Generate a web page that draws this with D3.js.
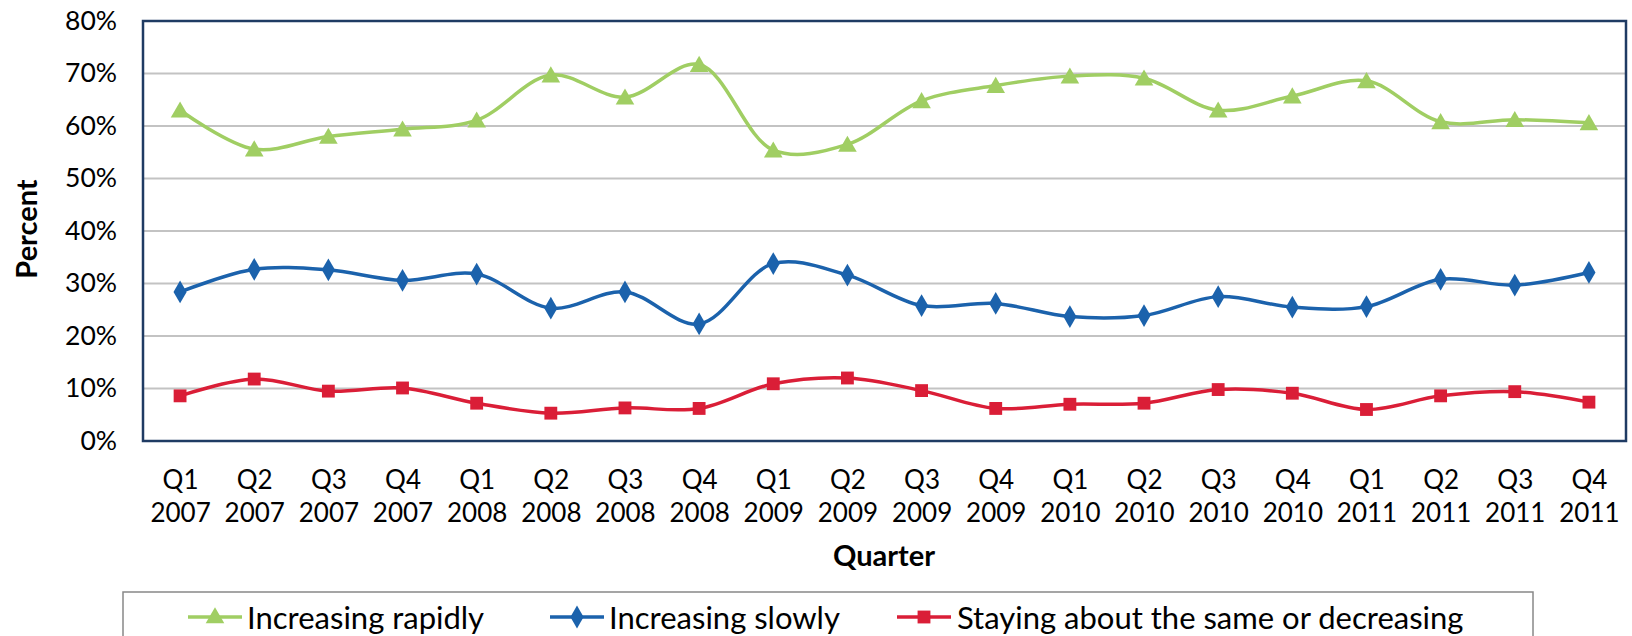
<!DOCTYPE html>
<html>
<head>
<meta charset="utf-8">
<script src="https://cdn.jsdelivr.net/npm/d3@7"></script>
<style>
    body { margin: 0; background: #fff; }
    svg text { font-family: Lato, "Open Sans", sans-serif; fill: #000; }
</style>
</head>
<body>
<div id="chart"></div>
<script>
// quarters along the x axis
var quarters = ["Q1", "Q2", "Q3", "Q4", "Q1", "Q2", "Q3", "Q4", "Q1", "Q2",
    "Q3", "Q4", "Q1", "Q2", "Q3", "Q4", "Q1", "Q2", "Q3", "Q4"];
var years = ["2007", "2007", "2007", "2007", "2008", "2008", "2008", "2008", "2009", "2009",
    "2009", "2009", "2010", "2010", "2010", "2010", "2011", "2011", "2011", "2011"];

// percent values
var increasingRapidly = [63.0, 55.6, 58.0, 59.4, 61.1, 69.7, 65.5, 71.7, 55.4, 56.5,
    64.8, 67.7, 69.5, 69.1, 63.0, 65.7, 68.6, 60.8, 61.2, 60.6];
var increasingSlowly = [28.4, 32.7, 32.6, 30.6, 31.8, 25.3, 28.4, 22.3, 33.8, 31.6,
    25.8, 26.2, 23.7, 23.9, 27.5, 25.5, 25.6, 30.8, 29.7, 32.1];
var stayingSame = [8.6, 11.8, 9.5, 10.1, 7.2, 5.3, 6.3, 6.2, 10.9, 12.0,
    9.6, 6.2, 7.0, 7.2, 9.8, 9.1, 6.0, 8.6, 9.4, 7.4];

var seriesNames = ["Increasing rapidly", "Increasing slowly", "Staying about the same or decreasing"];
var yTicks = [0, 10, 20, 30, 40, 50, 60, 70, 80];

var width = 1632, height = 636;
var plot = {left: 143, top: 21, right: 1626, bottom: 441};

var svg = d3.select("#chart")
    .append("svg")
    .attr("width", width)
    .attr("height", height);

var keys = quarters.map(function (q, i) { return i; });

var x = d3.scalePoint()
    .domain(keys)
    .range([plot.left, plot.right])
    .padding(0.5);

var y = d3.scaleLinear()
    .domain([0, 80])
    .range([plot.bottom, plot.top]);

// gridlines
svg.append("g")
    .selectAll("line")
    .data(yTicks.filter(function (d) { return d > 0 && d < 80; }))
    .enter()
    .append("line")
    .attr("x1", plot.left)
    .attr("x2", plot.right)
    .attr("y1", function (d) { return y(d); })
    .attr("y2", function (d) { return y(d); })
    .attr("stroke", "#c3c3c3")
    .attr("stroke-width", 2);

// y axis labels
var yAxis = svg.append("g")
    .attr("transform", "translate(" + (plot.left - 26) + ",0)")
    .call(d3.axisLeft(y).tickValues(yTicks).tickSize(0).tickPadding(0)
        .tickFormat(function (d) { return d + "%"; }));
yAxis.select(".domain").remove();
yAxis.selectAll("text")
    .style("font-family", "Lato")
    .style("font-size", "26.5px")
    .attr("fill", "#000");

// x axis labels, two lines each
var xAxis = svg.append("g")
    .attr("transform", "translate(0," + plot.bottom + ")")
    .call(d3.axisBottom(x).tickSize(0).tickFormat(""));
xAxis.select(".domain").remove();
xAxis.selectAll(".tick text").remove();
xAxis.selectAll(".tick")
    .append("text")
    .attr("text-anchor", "middle")
    .style("font-family", "Lato")
    .style("font-size", "26px")
    .attr("fill", "#000")
    .each(function (d) {
        var t = d3.select(this);
        t.append("tspan").attr("x", 0).attr("y", 48).text(quarters[d]);
        t.append("tspan").attr("x", 0).attr("y", 81).text(years[d]);
    });

// plot border
svg.append("rect")
    .attr("x", plot.left)
    .attr("y", plot.top)
    .attr("width", plot.right - plot.left)
    .attr("height", plot.bottom - plot.top)
    .attr("fill", "none")
    .attr("stroke", "#1f3b63")
    .attr("stroke-width", 2.5);

// axis titles
svg.append("text")
    .attr("x", 884)
    .attr("y", 566)
    .attr("text-anchor", "middle")
    .style("font-size", "29px")
    .style("font-weight", "bold")
    .text("Quarter");

svg.append("text")
    .attr("transform", "translate(37,229) rotate(-90)")
    .attr("text-anchor", "middle")
    .style("font-size", "29px")
    .style("font-weight", "bold")
    .text("Percent");

var series = [
    {name: seriesNames[0], values: increasingRapidly, color: "#a0ce63", shape: d3.symbolTriangle, size: 150},
    {name: seriesNames[1], values: increasingSlowly, color: "#1b62ac", shape: d3.symbolDiamond, size: 150},
    {name: seriesNames[2], values: stayingSame, color: "#da1e37", shape: d3.symbolSquare, size: 165}
];

var line = d3.line()
    .x(function (d, i) { return x(i); })
    .y(function (d) { return y(d); })
    .curve(d3.curveCatmullRom);

series.forEach(function (s) {
    svg.append("path")
        .datum(s.values)
        .attr("d", line)
        .attr("fill", "none")
        .attr("stroke", s.color)
        .attr("stroke-width", 3.5);

    svg.append("g")
        .selectAll("path")
        .data(s.values)
        .enter()
        .append("path")
        .attr("transform", function (d, i) {
            var dy = s.shape === d3.symbolTriangle ? 2 : 0;
            return "translate(" + x(i) + "," + (y(d) + dy) + ")";
        })
        .attr("d", d3.symbol().type(s.shape).size(s.size))
        .attr("fill", s.color);
});

// legend
var legend = svg.append("g");
legend.append("rect")
    .attr("x", 123)
    .attr("y", 592)
    .attr("width", 1410)
    .attr("height", 60)
    .attr("fill", "#fff")
    .attr("stroke", "#888")
    .attr("stroke-width", 1.5);

var legendX = [188, 550, 897];
var legendTextX = [247, 609, 957];

series.forEach(function (s, i) {
    legend.append("line")
        .attr("x1", legendX[i])
        .attr("x2", legendX[i] + 54)
        .attr("y1", 617)
        .attr("y2", 617)
        .attr("stroke", s.color)
        .attr("stroke-width", 3.5);
    legend.append("path")
        .attr("transform", "translate(" + (legendX[i] + 27) + "," + (s.shape === d3.symbolTriangle ? 618 : 617) + ")")
        .attr("d", d3.symbol().type(s.shape).size(s.size))
        .attr("fill", s.color);
    legend.append("text")
        .attr("x", legendTextX[i])
        .attr("y", 629)
        .style("font-size", "31px")
        .text(s.name);
});
</script>
</body>
</html>
